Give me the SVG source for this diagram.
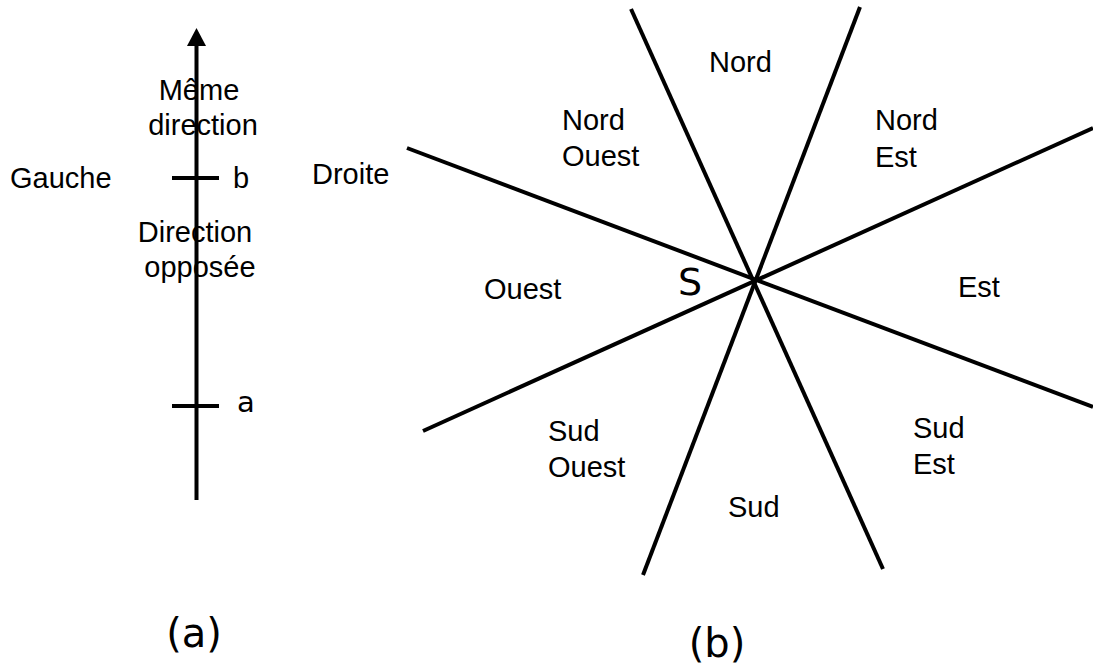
<svg xmlns="http://www.w3.org/2000/svg" width="1093" height="665" viewBox="0 0 1093 665">
<style>
.t{font-family:"Liberation Sans",Arial,sans-serif;font-size:29px;fill:#000}
.d{font-family:"DejaVu Sans",sans-serif;fill:#000}
.ln{stroke:#000;stroke-width:4;fill:none}
</style>
<rect width="1093" height="665" fill="#fff"/>
<g id="connectors">
<line class="ln" x1="196.5" y1="42" x2="196.5" y2="500"/>
<polygon points="196.5,28 187,46 206,46" fill="#000"/>
<line class="ln" x1="172" y1="178" x2="219" y2="178"/>
<line class="ln" x1="172" y1="406" x2="219" y2="406"/>
<line class="ln" x1="631" y1="9" x2="883" y2="569"/>
<line class="ln" x1="860" y1="7" x2="643" y2="575"/>
<line class="ln" x1="407" y1="148" x2="1093" y2="407"/>
<line class="ln" x1="1093" y1="128" x2="423" y2="431"/>
</g>
<g id="panel-a">
<text class="t" x="199" y="100" text-anchor="middle">Même</text>
<text class="t" x="203" y="135" text-anchor="middle">direction</text>
<text class="t" x="10" y="188">Gauche</text>
<text class="t" x="233" y="188">b</text>
<text class="t" x="195" y="242" text-anchor="middle">Direction</text>
<text class="t" x="200" y="277" text-anchor="middle">opposée</text>
<text class="d" x="237" y="412" font-size="29">a</text>
<text class="d" x="194" y="647" font-size="40" text-anchor="middle">(a)</text>
</g>
<g id="panel-b">
<text class="t" x="312" y="184">Droite</text>
<text class="t" x="709" y="72">Nord</text>
<text class="t" x="562" y="130">Nord</text>
<text class="t" x="562" y="166">Ouest</text>
<text class="t" x="875" y="130">Nord</text>
<text class="t" x="875" y="167">Est</text>
<text class="t" x="484" y="299">Ouest</text>
<text class="t" x="958" y="297">Est</text>
<text class="d" x="678" y="295" font-size="38">S</text>
<text class="t" x="548" y="441">Sud</text>
<text class="t" x="548" y="477">Ouest</text>
<text class="t" x="728" y="517">Sud</text>
<text class="t" x="913" y="438">Sud</text>
<text class="t" x="913" y="474">Est</text>
<text class="d" x="717" y="657" font-size="40" text-anchor="middle">(b)</text>
</g>
</svg>
